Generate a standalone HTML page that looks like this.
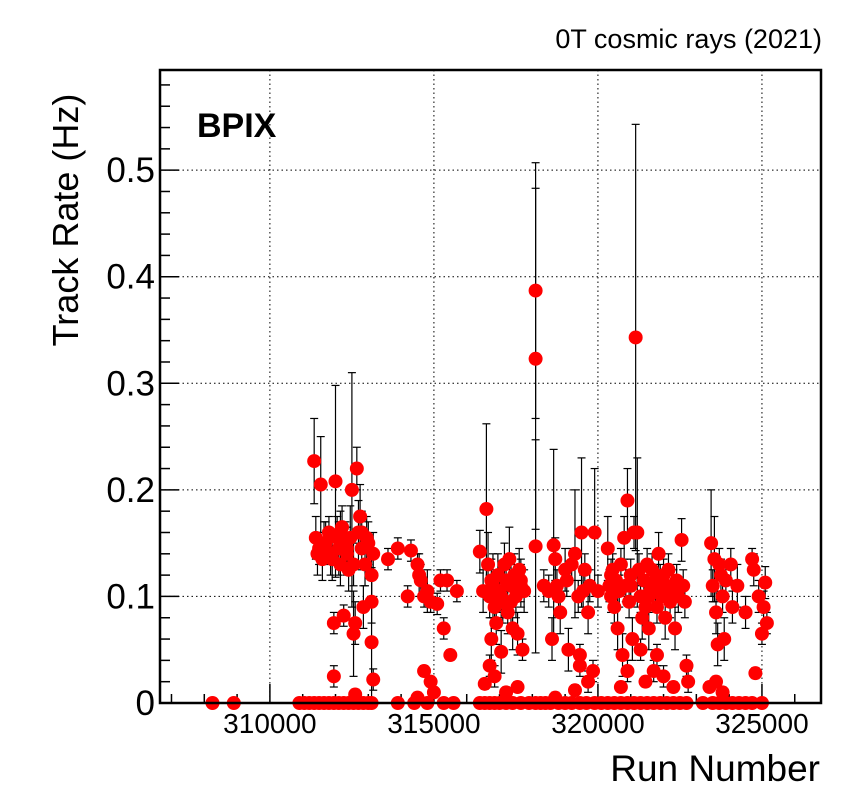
<!DOCTYPE html>
<html><head><meta charset="utf-8"><style>
html,body{margin:0;padding:0;background:#fff;width:854px;height:807px;overflow:hidden}
svg text{font-family:"Liberation Sans",sans-serif}
</style></head><body>
<svg id="chart" width="854" height="807">
<text x="822" y="48" text-anchor="end" font-size="27">0T cosmic rays (2021)</text>
<text x="197" y="137" font-size="34" font-weight="bold">BPIX</text>
<text transform="translate(78,220) rotate(-90)" text-anchor="middle" font-size="36">Track Rate (Hz)</text>
<text x="820" y="781" text-anchor="end" font-size="37">Run Number</text>
<g id="grid"></g><g id="axes"></g><g id="marks"></g>
<rect x="160" y="70" width="661" height="633" fill="none" stroke="#000" stroke-width="2.5"/>
</svg>
<script>
const xTicks=[310000,315000,320000,325000];
const yTicks=[0,0.1,0.2,0.3,0.4,0.5];
const yTickLabels=["0","0.1","0.2","0.3","0.4","0.5"];
const runs=[308250,308900,310900,311050,311200,311350,311500,311650,311800,311950,312100,312250,312400,312550,312700,312850,313000,313100,313900,314400,314800,315300,315600,316400,316550,316700,316850,317000,317200,317400,317650,317900,318100,318250,318400,318550,318800,319000,319200,319450,319650,319900,320100,320300,320500,320700,320900,321100,321300,321500,321700,321900,322100,322300,322500,322700,323200,323500,323700,323900,324100,324300,324500,324700,325000,
311350,311400,311500,311550,311600,311700,311800,311850,311950,312000,312050,312100,312150,312200,312250,312300,312350,312400,312450,312500,312550,312600,312650,312700,312750,312800,312850,312900,312950,313000,313100,313100,313100,313150,313150,311950,312600,311450,311650,311900,312150,312350,312550,312800,
313600,313900,314200,314300,314500,314550,314600,314700,314800,314900,315100,315200,315300,315400,315500,315700,314700,314900,315000,314500,
316400,316500,316550,316600,316650,316700,316750,316800,316850,316900,316950,317000,317050,317100,317150,317200,317250,317300,317350,317400,317450,317500,317550,317600,317650,317700,317750,316700,316850,317200,317550,316750,317050,317350,317650,
318100,318100,318100,
318350,318500,318600,318650,318700,318750,318800,318850,319000,319050,319100,319200,319300,319400,319450,319500,319550,319600,319700,319750,319850,319900,320000,319450,319700,319300,318700,
320300,320350,320400,320450,320500,320550,320600,320650,320700,320750,320800,320850,320900,320950,321000,321050,321100,321150,321200,321250,321300,321350,321400,321450,321500,321550,321600,321650,321700,321750,321800,321850,321900,321950,322000,322050,322100,322150,322200,322300,322350,322400,322450,322550,322600,322650,320700,320900,321300,321450,321800,322000,322300,322700,322750,320400,320600,321000,321550,321750,322250,
323450,323500,323550,323600,323650,323700,323750,323800,323850,323900,324050,324100,324250,324500,324700,324750,324800,324900,325000,325050,325100,325150,323400,323600,323800];
const rates=[0,0,0,0,0,0,0,0,0,0,0,0,0,0,0,0,0,0,0,0,0,0,0,0,0,0,0,0,0,0,0,0,0,0,0,0,0,0,0,0,0,0,0,0,0,0,0,0,0,0,0,0,0,0,0,0,0,0,0,0,0,0,0,0,0,
0.227,0.155,0.145,0.205,0.135,0.15,0.16,0.14,0.075,0.208,0.155,0.145,0.13,0.165,0.082,0.15,0.14,0.125,0.155,0.2,0.065,0.075,0.22,0.16,0.175,0.145,0.09,0.13,0.155,0.15,0.12,0.095,0.057,0.14,0.022,0.025,0.008,0.14,0.15,0.135,0.16,0.145,0.13,0.16,
0.135,0.145,0.1,0.143,0.13,0.12,0.115,0.1,0.105,0.095,0.093,0.115,0.07,0.115,0.045,0.105,0.03,0.02,0.01,0.005,
0.142,0.105,0.018,0.182,0.13,0.1,0.06,0.11,0.09,0.075,0.12,0.105,0.048,0.095,0.13,0.115,0.085,0.135,0.11,0.07,0.12,0.1,0.065,0.125,0.115,0.05,0.105,0.035,0.025,0.01,0.015,0.115,0.1,0.095,0.11,
0.387,0.323,0.147,
0.11,0.105,0.06,0.148,0.135,0.11,0.1,0.085,0.125,0.115,0.05,0.13,0.14,0.1,0.045,0.16,0.105,0.125,0.085,0.11,0.03,0.16,0.105,0.035,0.02,0.012,0.005,
0.145,0.11,0.1,0.125,0.09,0.115,0.07,0.105,0.13,0.045,0.155,0.11,0.19,0.095,0.12,0.06,0.16,0.343,0.16,0.125,0.1,0.08,0.115,0.09,0.13,0.07,0.105,0.125,0.03,0.11,0.09,0.14,0.115,0.1,0.12,0.08,0.11,0.125,0.095,0.11,0.07,0.115,0.1,0.153,0.11,0.095,0.015,0.03,0.05,0.02,0.045,0.025,0.015,0.035,0.02,0.12,0.105,0.11,0.1,0.115,0.105,
0.15,0.11,0.135,0.085,0.055,0.13,0.12,0.1,0.06,0.115,0.13,0.09,0.11,0.085,0.135,0.125,0.028,0.1,0.065,0.09,0.113,0.075,0.015,0.02,0.01];
const errs=[0,0,0,0,0,0,0,0,0,0,0,0,0,0,0,0,0,0,0,0,0,0,0,0,0,0,0,0,0,0,0,0,0,0,0,0,0,0,0,0,0,0,0,0,0,0,0,0,0,0,0,0,0,0,0,0,0,0,0,0,0,0,0,0,0,
0.04,0.02,0.015,0.045,0.02,0.02,0.015,0.02,0.01,0.09,0.02,0.025,0.02,0.02,0.01,0.02,0.02,0.02,0.03,0.11,0.04,0.02,0.02,0.03,0.03,0.02,0.02,0.02,0.02,0.02,0.02,0.02,0.07,0.02,0.01,0.01,0.005,0.02,0.02,0.02,0.02,0.02,0.02,0.02,
0.01,0.01,0.01,0.01,0.01,0.02,0.015,0.01,0.02,0.01,0.01,0.01,0.01,0.01,0.005,0.01,0.005,0.005,0.005,0.005,
0.02,0.02,0.005,0.08,0.03,0.02,0.02,0.03,0.02,0.02,0.02,0.02,0.02,0.02,0.02,0.02,0.02,0.03,0.02,0.02,0.02,0.02,0.02,0.02,0.02,0.01,0.02,0.01,0.01,0.005,0.005,0.02,0.02,0.02,0.02,
0.12,0.16,0.1,
0.015,0.015,0.02,0.09,0.02,0.015,0.015,0.02,0.02,0.015,0.02,0.015,0.06,0.015,0.01,0.07,0.015,0.015,0.02,0.015,0.01,0.06,0.015,0.01,0.01,0.005,0.005,
0.03,0.015,0.015,0.015,0.015,0.015,0.02,0.015,0.015,0.02,0.02,0.015,0.03,0.015,0.015,0.02,0.015,0.2,0.07,0.015,0.015,0.02,0.015,0.015,0.015,0.02,0.015,0.015,0.01,0.015,0.015,0.02,0.015,0.015,0.015,0.02,0.015,0.015,0.015,0.015,0.02,0.015,0.015,0.02,0.015,0.015,0.005,0.01,0.01,0.005,0.01,0.01,0.005,0.01,0.01,0.015,0.015,0.015,0.015,0.015,0.015,
0.05,0.015,0.04,0.02,0.02,0.015,0.015,0.015,0.02,0.015,0.015,0.015,0.02,0.015,0.01,0.015,0.005,0.015,0.01,0.015,0.015,0.01,0.005,0.005,0.005];
const X0=160,X1=821,Y0=703,Y1=70,xmin=306650,xmax=326800,ymax=0.594;
function xs(v){return X0+(v-xmin)/(xmax-xmin)*(X1-X0);}
function ys(v){return Y0-v/ymax*(Y0-Y1);}
const NS="http://www.w3.org/2000/svg";
function mk(tag,attrs,parent){const e=document.createElementNS(NS,tag);for(const k in attrs)e.setAttribute(k,attrs[k]);parent.appendChild(e);return e;}
const grid=document.getElementById('grid'),axes=document.getElementById('axes'),marks=document.getElementById('marks');
xTicks.forEach(t=>{const x=xs(t);
 const g=mk('line',{x1:x,x2:x,y1:Y1,y2:Y0,stroke:'#000','stroke-width':1,'stroke-dasharray':'1.5,3'},grid);
 
 
 mk('line',{x1:x,x2:x,y1:Y0,y2:Y0-19,stroke:'#000','stroke-width':1.5},axes);
 const tx=mk('text',{x:x,y:733,'text-anchor':'middle','font-size':28},axes);tx.textContent=t;
 
 
});
for(let v=xmin-(xmin%1000)+1000;v<xmax;v+=1000){if(v%5000)mk('line',{x1:xs(v),x2:xs(v),y1:Y0,y2:Y0-9,stroke:'#000','stroke-width':1.5},axes);}
yTicks.forEach((t,i)=>{const y=ys(t);
 if(t>0){const g=mk('line',{x1:X0,x2:X1,y1:y,y2:y,stroke:'#000','stroke-width':1,'stroke-dasharray':'1.5,3'},grid);
 
 }
 mk('line',{x1:X0,x2:X0+19,y1:y,y2:y,stroke:'#000','stroke-width':1.5},axes);
 const tx=mk('text',{x:155,y:y+12,'text-anchor':'end','font-size':35},axes);tx.textContent=yTickLabels[i];
 
 
});
for(let v=0.02;v<ymax;v+=0.02){if(Math.round(v*100)%10)mk('line',{x1:X0,x2:X0+10,y1:ys(v),y2:ys(v),stroke:'#000','stroke-width':1.5},axes);}
runs.forEach((r,i)=>{
 const x=xs(r),y=ys(rates[i]),e=errs[i];
 if(e>0){
  const g=mk('g',{stroke:'#000','stroke-width':1.2},marks);
  
  
  const ya=ys(rates[i]+e),yb=Math.min(ys(Math.max(rates[i]-e,0)),Y0);
  mk('line',{x1:x,x2:x,y1:ya,y2:yb},g);
  mk('line',{x1:x-4,x2:x+4,y1:ya,y2:ya},g);
  mk('line',{x1:x-4,x2:x+4,y1:yb,y2:yb},g);
 }
});
runs.forEach((r,i)=>{
 const c=mk('circle',{cx:xs(r),cy:ys(rates[i]),r:7,fill:'#ff0000'},marks);
 
 
});
</script>
</body></html>
